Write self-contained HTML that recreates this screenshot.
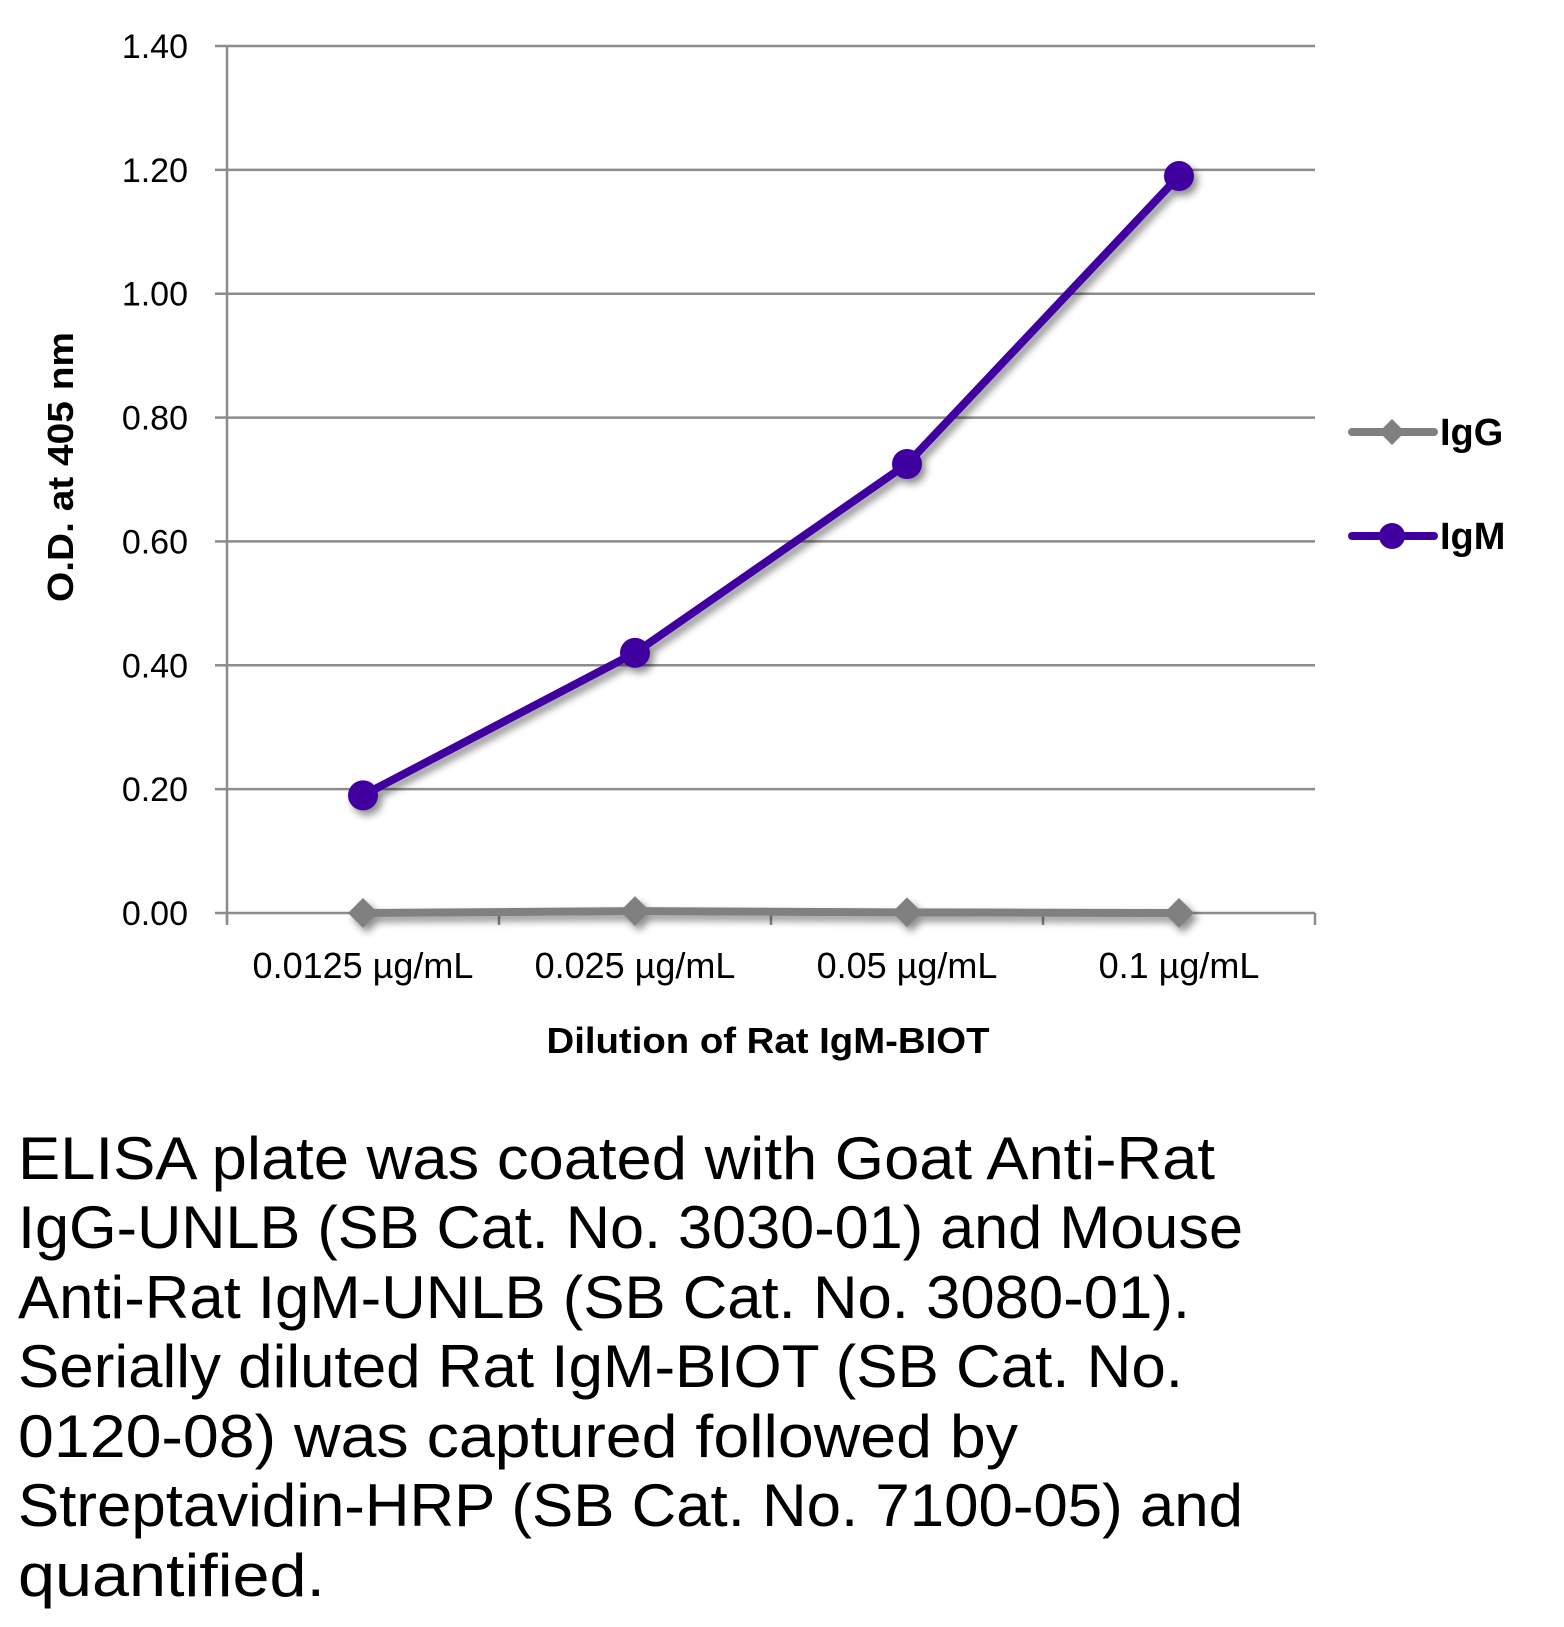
<!DOCTYPE html>
<html><head><meta charset="utf-8"><style>
html,body{margin:0;padding:0;background:#fff;}
svg{display:block;}
text{font-family:"Liberation Sans",sans-serif;}
</style></head><body>
<svg id="chart" width="1564" height="1627" viewBox="0 0 1564 1627" xmlns="http://www.w3.org/2000/svg">
<defs>
<filter id="sh" x="-50%" y="-50%" width="200%" height="200%"><feGaussianBlur in="SourceAlpha" stdDeviation="4"/><feOffset dx="4" dy="5"/><feComponentTransfer><feFuncA type="linear" slope="0.45"/></feComponentTransfer><feMerge><feMergeNode/><feMergeNode in="SourceGraphic"/></feMerge></filter>
</defs>
<g id="grid"></g>
<g id="axes"></g>
<g id="series"></g>
<text transform="translate(73,467) rotate(-90)" text-anchor="middle" font-weight="bold" font-size="36" textLength="270" lengthAdjust="spacingAndGlyphs">O.D. at 405 nm</text>
<text x="768" y="1053" text-anchor="middle" font-weight="bold" font-size="36" textLength="443" lengthAdjust="spacingAndGlyphs">Dilution of Rat IgM-BIOT</text>
<g>
<g>
<line x1="1352" y1="432" x2="1434" y2="432" stroke="#808080" stroke-width="8" stroke-linecap="round"/>
<polygon points="1392,419 1405,432 1392,445 1379,432" fill="#808080"/>
<text x="1440" y="445" font-weight="bold" font-size="38">IgG</text>
</g>
<g>
<line x1="1352" y1="536" x2="1434" y2="536" stroke="#4000a0" stroke-width="8" stroke-linecap="round"/>
<circle cx="1392" cy="536" r="13" fill="#4000a0"/>
<text x="1440" y="549" font-weight="bold" font-size="38">IgM</text>
</g>
</g>
<g font-size="60" fill="#000">
<text x="18" y="1179" textLength="1197" lengthAdjust="spacingAndGlyphs">ELISA plate was coated with Goat Anti-Rat</text>
<text x="18" y="1248" textLength="1225" lengthAdjust="spacingAndGlyphs">IgG-UNLB (SB Cat. No. 3030-01) and Mouse</text>
<text x="18" y="1318" textLength="1172" lengthAdjust="spacingAndGlyphs">Anti-Rat IgM-UNLB (SB Cat. No. 3080-01).</text>
<text x="18" y="1387" textLength="1165" lengthAdjust="spacingAndGlyphs">Serially diluted Rat IgM-BIOT (SB Cat. No.</text>
<text x="18" y="1457" textLength="1000" lengthAdjust="spacingAndGlyphs">0120-08) was captured followed by</text>
<text x="18" y="1526" textLength="1225" lengthAdjust="spacingAndGlyphs">Streptavidin-HRP (SB Cat. No. 7100-05) and</text>
<text x="18" y="1596" textLength="307" lengthAdjust="spacingAndGlyphs">quantified.</text>
</g>
</svg>
<script>
const categories = ["0.0125 µg/mL","0.025 µg/mL","0.05 µg/mL","0.1 µg/mL"];
const iggValues = [0.0, 0.003, 0.001, 0.0];
const igmValues = [0.19, 0.42, 0.725, 1.19];
const yTicks = [0, 0.2, 0.4, 0.6, 0.8, 1.0, 1.2, 1.4];
const yTickLabels = ["0.00","0.20","0.40","0.60","0.80","1.00","1.20","1.40"];

const NS = "http://www.w3.org/2000/svg";
const L = 227, R = 1315, Y0 = 913, Y1 = 46, YMAX = 1.4;
const band = (R - L) / categories.length;
function xPos(i){ return L + band * (i + 0.5); }
function yPos(v){ return Y0 - (v / YMAX) * (Y0 - Y1); }
function mk(tag, attrs, parent){ const e = document.createElementNS(NS, tag); for (const k in attrs) e.setAttribute(k, attrs[k]); parent.appendChild(e); return e; }

const grid = document.getElementById('grid');
const axes = document.getElementById('axes');
const series = document.getElementById('series');

yTicks.forEach((t, i) => {
  const y = yPos(t);
  if (t > 0) {
    const g = mk('line', {x1: L, x2: R, y1: y, y2: y, stroke: '#8c8c8c', 'stroke-width': 2.5}, grid);
    
    
  }
  const tk = mk('line', {x1: L - 12, x2: L, y1: y, y2: y, stroke: '#8c8c8c', 'stroke-width': 2.5}, axes);
  
  
  const lb = mk('text', {x: 188, y: y + 12, 'text-anchor': 'end', 'font-size': 34}, axes);
  lb.textContent = yTickLabels[i];
  
  
});
const ya = mk('line', {x1: L, x2: L, y1: Y1, y2: Y0 + 10, stroke: '#8c8c8c', 'stroke-width': 2.5}, axes);


const xa = mk('line', {x1: L, x2: R, y1: Y0, y2: Y0, stroke: '#8c8c8c', 'stroke-width': 2.5}, axes);


for (let i = 0; i <= categories.length; i++) {
  const x = L + band * i;
  const t = mk('line', {x1: x, x2: x, y1: Y0, y2: Y0 + 12, stroke: '#8c8c8c', 'stroke-width': 2.5}, axes);
  
  
}
categories.forEach((c, i) => {
  const t = mk('text', {x: xPos(i), y: 978, 'text-anchor': 'middle', 'font-size': 36}, axes);
  t.textContent = c;
  
  
});

function drawSeries(vals, color, name, marker) {
  const g = mk('g', {filter: 'url(#sh)'}, series);
  
  
  const pts = vals.map((v, i) => xPos(i) + ',' + yPos(v)).join(' ');
  const pl = mk('polyline', {points: pts, fill: 'none', stroke: color, 'stroke-width': 8, 'stroke-linejoin': 'round', 'stroke-linecap': 'round'}, g);
  
  
  vals.forEach((v, i) => {
    const x = xPos(i), y = yPos(v);
    let m;
    if (marker === 'circle') m = mk('circle', {cx: x, cy: y, r: 15, fill: color}, g);
    else m = mk('polygon', {points: `${x},${y-15} ${x+15},${y} ${x},${y+15} ${x-15},${y}`, fill: color}, g);
    
    
  });
}
drawSeries(iggValues, '#808080', 'igg', 'diamond');
drawSeries(igmValues, '#4000a0', 'igm', 'circle');
</script>
</body></html>
